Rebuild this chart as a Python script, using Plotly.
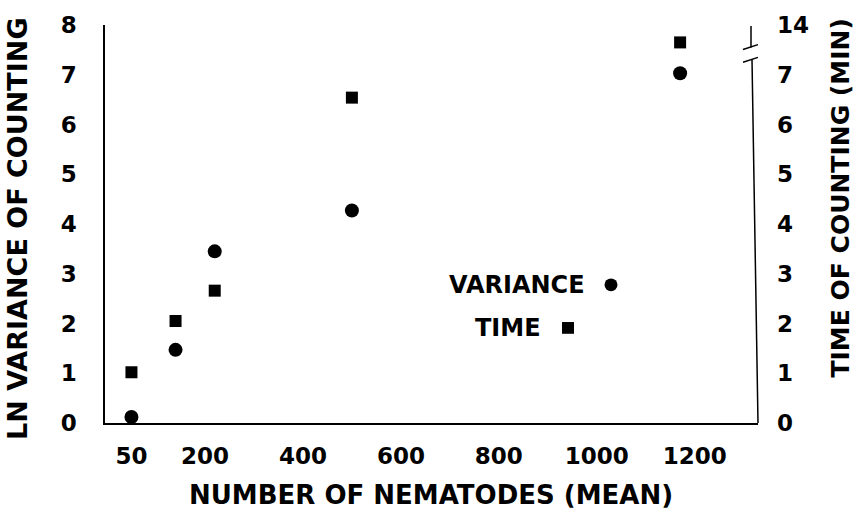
import plotly.graph_objects as go

# ---- data ----
nematodes = [50, 140, 220, 500, 1170]          # mean number of nematodes
ln_variance = [0.12, 1.47, 3.45, 4.27, 7.03]    # LN variance of counting (circles)
time_min = [1.02, 2.05, 2.66, 6.54, 13.65]      # time of counting, min (squares)

x_tick_values = [50, 200, 400, 600, 800, 1000, 1200]
left_tick_values = [0, 1, 2, 3, 4, 5, 6, 7, 8]
right_tick_values = [0, 1, 2, 3, 4, 5, 6, 7, 14]

# broken right axis: the segment between 7 and 13 minutes is cut out
BREAK_LOW, BREAK_HIGH = 7, 13


def time_to_axis(t):
    return t if t <= BREAK_LOW else t - (BREAK_HIGH - BREAK_LOW)


FONT = "DejaVu Sans"
W, H = 855, 522
L, R, T, B = 105, 97, 17, 99
PW, PH = W - L - R, H - T - B


def px(xp):
    return (xp - L) / PW


def py(yp):
    return (H - B - yp) / PH


def yv(yp):  # pixel row -> left-axis value
    return (H - B - yp) / PH * 8


fig = go.Figure()
fig.add_trace(go.Scatter(
    x=nematodes, y=ln_variance, mode="markers", yaxis="y",
    marker=dict(symbol="circle", size=14, color="black"), showlegend=False))
fig.add_trace(go.Scatter(
    x=nematodes, y=[time_to_axis(t) for t in time_min], mode="markers", yaxis="y2",
    marker=dict(symbol="square", size=12, color="black"), showlegend=False))

tickfont = dict(family=FONT, size=23, color="black", weight="bold")

fig.update_layout(
    width=W, height=H,
    margin=dict(l=L, r=R, t=T, b=B),
    paper_bgcolor="white", plot_bgcolor="white",
    showlegend=False,
    xaxis=dict(range=[-4, 1329], tickvals=x_tick_values, showgrid=False, zeroline=False,
               showline=True, linecolor="black", linewidth=1.5, ticks="",
               ticklabelstandoff=12, tickfont=tickfont),
    yaxis=dict(range=[0, 8], tickvals=left_tick_values, showgrid=False, zeroline=False,
               showline=True, linecolor="black", linewidth=1.5, ticks="",
               ticklabelstandoff=22, tickfont=tickfont),
    yaxis2=dict(range=[0, 8], overlaying="y", side="right",
                tickvals=[time_to_axis(v) for v in right_tick_values],
                ticktext=[str(v) for v in right_tick_values],
                showgrid=False, zeroline=False, showline=False, ticks="",
                ticklabelstandoff=18, tickfont=tickfont),
)

line = dict(color="black", width=1.5)
shapes = [
    # right axis (lower part) up to the break
    dict(type="line", xref="paper", yref="y", x0=1.0, y0=0, x1=px(752), y1=yv(52), line=line),
    # break marks
    dict(type="line", xref="paper", yref="y", x0=px(743), y0=yv(55), x1=px(758), y1=yv(50), line=line),
    dict(type="line", xref="paper", yref="y", x0=px(743), y0=yv(42), x1=px(758), y1=yv(37), line=line),
    # right axis (upper part) above the break
    dict(type="line", xref="paper", yref="y", x0=px(751), y0=yv(40), x1=px(751), y1=yv(18), line=line),
    # legend keys
    dict(type="circle", xref="paper", yref="paper", x0=px(604.5), x1=px(617.5),
         y0=py(288.5), y1=py(275.5), fillcolor="black", line=dict(width=0)),
    dict(type="rect", xref="paper", yref="paper", x0=px(562), x1=px(574),
         y0=py(332), y1=py(320), fillcolor="black", line=dict(width=0)),
]
fig.update_layout(shapes=shapes)


def ann(text, x, y, size, angle=0, xanchor="center"):
    return dict(text=text, x=x, y=y, xref="paper", yref="paper", showarrow=False,
                textangle=angle, xanchor=xanchor, yanchor="middle",
                font=dict(family=FONT, size=size, color="black", weight="bold"))


fig.update_layout(annotations=[
    ann("LN VARIANCE OF COUNTING", px(18), py(225), 27, -90),
    ann("TIME OF COUNTING (MIN)", px(841), py(194), 25, -90),
    ann("NUMBER OF NEMATODES (MEAN)", px(431), py(496), 26),
    ann("VARIANCE", px(587), py(282), 24, xanchor="right"),
    ann("TIME", px(543), py(326), 24, xanchor="right"),
])

fig.write_html("out.html")
